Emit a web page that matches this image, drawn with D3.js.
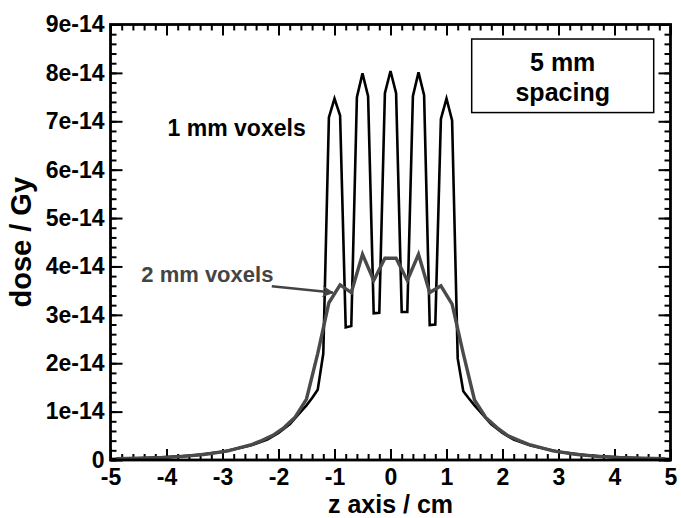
<!DOCTYPE html>
<html>
<head>
<meta charset="utf-8">
<script src="https://cdn.jsdelivr.net/npm/d3@7"></script>
<style>
  html, body { margin: 0; padding: 0; background: #fff; }
  svg { display: block; }
  text { font-family: "Liberation Sans", Arial, Helvetica, sans-serif; font-weight: bold; }
</style>
</head>
<body>
<svg id="chart" width="681" height="518"></svg>
<script>
// ---- data (dose in units of 1e-14 Gy, z in cm) ----
const zBlack = [-5.0, -4.5, -4.0, -3.5, -3.0, -2.5, -2.2, -2.0, -1.8, -1.6, -1.5, -1.4, -1.3, -1.2,
  -1.1, -1.0, -0.9, -0.8, -0.7, -0.6, -0.5, -0.4, -0.3, -0.2, -0.1, 0.0, 0.1, 0.2, 0.3, 0.4, 0.5,
  0.6, 0.7, 0.8, 0.9, 1.0, 1.1, 1.2, 1.3, 1.4, 1.5, 1.6, 1.8, 2.0, 2.2, 2.5, 3.0, 3.5, 4.0, 4.5, 5.0];
const doseBlack = [0.02, 0.035, 0.06, 0.095, 0.17, 0.30, 0.42, 0.56, 0.74, 1.0, 1.13, 1.28, 1.45, 2.2,
  7.08, 7.47, 7.12, 2.74, 2.77, 7.50, 7.99, 7.52, 3.03, 3.04, 7.58, 8.04, 7.58, 3.06, 3.06, 7.52, 8.01,
  7.54, 2.79, 2.80, 7.05, 7.47, 7.02, 2.1, 1.42, 1.27, 1.13, 1.0, 0.74, 0.56, 0.42, 0.30, 0.17, 0.095, 0.06, 0.035, 0.02];

const zGray = [-4.9, -4.5, -4.1, -3.7, -3.3, -2.9, -2.5, -2.3, -2.1, -1.9, -1.7, -1.5, -1.3,
  -1.1, -0.9, -0.7, -0.5, -0.3, -0.1, 0.1, 0.3, 0.5, 0.7, 0.9, 1.1,
  1.3, 1.5, 1.7, 1.9, 2.1, 2.3, 2.5, 2.9, 3.3, 3.7, 4.1, 4.5, 4.9];
const doseGray = [0.025, 0.035, 0.05, 0.075, 0.12, 0.19, 0.31, 0.40, 0.51, 0.67, 0.89, 1.26, 2.2,
  3.25, 3.62, 3.46, 4.25, 3.71, 4.17, 4.17, 3.71, 4.25, 3.46, 3.60, 3.22,
  2.2, 1.24, 0.88, 0.67, 0.50, 0.40, 0.31, 0.19, 0.12, 0.075, 0.05, 0.035, 0.025];

const xTicks = [-5, -4, -3, -2, -1, 0, 1, 2, 3, 4, 5];
const xTickLabels = ["-5", "-4", "-3", "-2", "-1", "0", "1", "2", "3", "4", "5"];
const yTicks = [0, 1, 2, 3, 4, 5, 6, 7, 8, 9];
const yTickLabels = ["0", "1e-14", "2e-14", "3e-14", "4e-14", "5e-14", "6e-14", "7e-14", "8e-14", "9e-14"];

const xTitle = "z axis / cm";
const yTitle = "dose / Gy";
const label1mm = "1 mm voxels";
const label2mm = "2 mm voxels";
const boxLines = ["5 mm", "spacing"];

// ---- layout ----
const L = 110.5, R = 670.5, T = 24.5, B = 460;
const svg = d3.select("#chart");
const x = d3.scaleLinear().domain([-5, 5]).range([L, R]);
const y = d3.scaleLinear().domain([0, 9]).range([B, T]);

const xMinor = d3.range(-5, 5.0001, 0.2).map(v => +v.toFixed(2));
const yMinor = d3.range(0, 9.0001, 0.2).map(v => +v.toFixed(2));

function styleAxis(g) {
  g.select(".domain").remove();
  g.selectAll(".tick line").attr("stroke", "#000").attr("stroke-width", 2);
  g.selectAll("text").attr("font-size", 23).attr("fill", "#000")
    .attr("font-family", '"Liberation Sans", Arial, sans-serif').attr("font-weight", "bold");
}

// minor ticks
svg.append("g").attr("transform", `translate(0,${B})`)
  .call(d3.axisBottom(x).tickValues(xMinor).tickSize(-6).tickFormat(""))
  .call(styleAxis);
svg.append("g").attr("transform", `translate(0,${T})`)
  .call(d3.axisTop(x).tickValues(xMinor).tickSize(-6).tickFormat(""))
  .call(styleAxis);
svg.append("g").attr("transform", `translate(${L},0)`)
  .call(d3.axisLeft(y).tickValues(yMinor).tickSize(-6).tickFormat(""))
  .call(styleAxis);
svg.append("g").attr("transform", `translate(${R},0)`)
  .call(d3.axisRight(y).tickValues(yMinor).tickSize(-6).tickFormat(""))
  .call(styleAxis);

// major ticks
svg.append("g").attr("transform", `translate(0,${B})`)
  .call(d3.axisBottom(x).tickValues(xTicks).tickSize(-11).tickPadding(9)
    .tickFormat((d, i) => xTickLabels[i]))
  .call(styleAxis);
svg.append("g").attr("transform", `translate(0,${T})`)
  .call(d3.axisTop(x).tickValues(xTicks).tickSize(-11).tickFormat(""))
  .call(styleAxis);
svg.append("g").attr("transform", `translate(${L},0)`)
  .call(d3.axisLeft(y).tickValues(yTicks).tickSize(-12).tickPadding(6)
    .tickFormat((d, i) => yTickLabels[i]))
  .call(styleAxis);
svg.append("g").attr("transform", `translate(${R},0)`)
  .call(d3.axisRight(y).tickValues(yTicks).tickSize(-12).tickFormat(""))
  .call(styleAxis);

// ---- curves ----
const line = d3.line().x(d => x(d[0])).y(d => y(d[1]));
svg.append("path")
  .datum(zBlack.map((z, i) => [z, doseBlack[i]]))
  .attr("d", line).attr("fill", "none").attr("stroke", "#000")
  .attr("stroke-width", 2.6).attr("stroke-linejoin", "miter");
svg.append("path")
  .datum(zGray.map((z, i) => [z, doseGray[i]]))
  .attr("d", line).attr("fill", "none").attr("stroke", "#4a4a4a")
  .attr("stroke-width", 3.4).attr("stroke-linejoin", "miter");

// frame
svg.append("rect").attr("x", L).attr("y", T).attr("width", R - L).attr("height", B - T)
  .attr("fill", "none").attr("stroke", "#000").attr("stroke-width", 2.8);

// ---- annotations ----
svg.append("text").attr("x", x(-3.98)).attr("y", y(6.7))
  .attr("font-size", 23).attr("fill", "#000").text(label1mm);

svg.append("text").attr("x", x(-4.45)).attr("y", y(3.67))
  .attr("font-size", 22).attr("fill", "#444").text(label2mm);

const defs = svg.append("defs");
defs.append("marker").attr("id", "arrow").attr("viewBox", "0 0 10 10")
  .attr("refX", 9).attr("refY", 5).attr("markerWidth", 4.5).attr("markerHeight", 4.5)
  .attr("orient", "auto").attr("markerUnits", "strokeWidth")
  .append("path").attr("d", "M0,0 L10,5 L0,10 L3,5 Z").attr("fill", "#444");
svg.append("line")
  .attr("x1", x(-2.12)).attr("y1", y(3.59))
  .attr("x2", x(-1.03)).attr("y2", y(3.46))
  .attr("stroke", "#444").attr("stroke-width", 2.6).attr("marker-end", "url(#arrow)");

// box
const bx0 = x(1.45), bx1 = x(4.7), by0 = y(8.7), by1 = y(7.18);
svg.append("rect").attr("x", bx0).attr("y", by0).attr("width", bx1 - bx0).attr("height", by1 - by0)
  .attr("fill", "#fff").attr("stroke", "#000").attr("stroke-width", 1.5);
svg.append("text").attr("x", (bx0 + bx1) / 2).attr("y", by0 + 32)
  .attr("text-anchor", "middle").attr("font-size", 25).text(boxLines[0]);
svg.append("text").attr("x", (bx0 + bx1) / 2).attr("y", by0 + 62)
  .attr("text-anchor", "middle").attr("font-size", 25).text(boxLines[1]);

// axis titles
svg.append("text").attr("x", (L + R) / 2).attr("y", 513)
  .attr("text-anchor", "middle").attr("font-size", 25).text(xTitle);
svg.append("text").attr("transform", `translate(31,${(T + B) / 2}) rotate(-90)`)
  .attr("text-anchor", "middle").attr("font-size", 29).text(yTitle);
</script>
</body>
</html>
